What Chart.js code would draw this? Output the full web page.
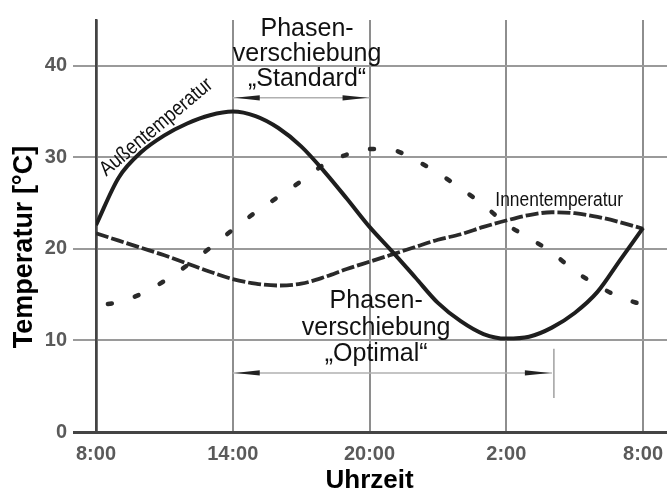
<!DOCTYPE html>
<html>
<head>
<meta charset="utf-8">
<script src="https://cdn.jsdelivr.net/npm/chart.js@4/dist/chart.umd.min.js"></script>
<style>
html,body{margin:0;padding:0;background:#fff;}
#wrap{width:667px;height:491px;}
</style>
</head>
<body>
<div id="wrap"><canvas id="c" width="667" height="491"></canvas></div>
<script>
// ---- data ----
const hours = [8,9,10,11,12,13,14,15,16,17,18,19,20,21,22,23,24,25,26,27,28,29,30,31,32];
const tickHours = [8,14,20,26,32];
const tickLabels = ['8:00','14:00','20:00','2:00','8:00'];
const yTicks = [0,10,20,30,40];
const aussen = [22.6,27.8,30.6,32.4,33.7,34.6,35,34.5,33.2,31.2,28.5,25.5,22.4,19.7,16.9,14.1,12.1,10.7,10.2,10.4,11.4,13.0,15.3,18.8,22.3];
const innen  = [21.7,20.9,20.1,19.3,18.4,17.5,16.7,16.2,16.0,16.2,16.9,17.8,18.6,19.4,20.2,21.0,21.6,22.4,23.1,23.7,24.0,23.9,23.5,22.9,22.2];
const standard = [13.8,14.2,15.1,16.5,18.2,20.1,22.1,24.0,25.7,27.4,29.2,30.3,30.9,30.8,29.7,28.3,26.6,24.8,22.7,21.2,19.6,17.6,16.0,14.7,13.9];

// annotation anchors in data units (hour, °C)
const labelAussen = {text:'Außentemperatur', x:10.81, y:32.8, angle:-40};
const labelInnen = {text:'Innentemperatur', x:28.32, y:24.7};
const textStandard = {lines:['Phasen-','verschiebung','\u201EStandard\u201C'], x:17.26, y:43.3};
const textOptimal = {lines:['Phasen-','verschiebung','\u201EOptimal\u201C'], x:20.29, y:13.55};
const arrowStandard = {from:14, to:20, y:36.5};
const arrowOptimal = {from:14, to:28.0, y:6.45, barFrom:3.7, barTo:9.1};

const pts = arr => hours.map((h,i)=>({x:h,y:arr[i]}));

const annot = {
  id:'annot',
  afterDatasetsDraw(chart){
    const {ctx, scales:{x,y}} = chart;
    ctx.save();
    function arrow(a){
      const x1 = x.getPixelForValue(a.from), x2 = x.getPixelForValue(a.to), yy = y.getPixelForValue(a.y);
      ctx.strokeStyle = '#b0b0b0'; ctx.lineWidth = 1.5;
      ctx.beginPath(); ctx.moveTo(x1,yy); ctx.lineTo(x2,yy); ctx.stroke();
      ctx.fillStyle = '#222';
      const L = 27, h = 2.6;
      ctx.beginPath(); ctx.moveTo(x1+2,yy); ctx.lineTo(x1+L,yy-h); ctx.lineTo(x1+L,yy+h); ctx.closePath(); ctx.fill();
      ctx.beginPath(); ctx.moveTo(x2-2,yy); ctx.lineTo(x2-L,yy-h); ctx.lineTo(x2-L,yy+h); ctx.closePath(); ctx.fill();
      if (a.barFrom !== undefined){
        ctx.strokeStyle = '#a0a0a0'; ctx.lineWidth = 1.5;
        const bx = x2 + 2;
        ctx.beginPath(); ctx.moveTo(bx, y.getPixelForValue(a.barTo)); ctx.lineTo(bx, y.getPixelForValue(a.barFrom)); ctx.stroke();
      }
    }
    arrow(arrowStandard); arrow(arrowOptimal);

    function block(t, spacing){
      ctx.fillStyle = '#111';
      ctx.font = '25px "Liberation Sans", Arial, sans-serif';
      ctx.textAlign = 'center'; ctx.textBaseline = 'alphabetic';
      const cx = x.getPixelForValue(t.x), by = y.getPixelForValue(t.y);
      t.lines.forEach((s,i)=>ctx.fillText(s, cx, by + i*spacing));
    }
    block(textStandard, 25.3);
    block(textOptimal, 26.7);

    ctx.fillStyle = '#111';
    ctx.textAlign = 'center'; ctx.textBaseline = 'alphabetic';
    ctx.save();
    ctx.translate(x.getPixelForValue(labelAussen.x), y.getPixelForValue(labelAussen.y));
    ctx.rotate(labelAussen.angle*Math.PI/180);
    ctx.scale(0.86,1);
    ctx.font = '21px "Liberation Sans", Arial, sans-serif';
    ctx.fillText(labelAussen.text, 0, 0);
    ctx.restore();
    ctx.save();
    ctx.translate(x.getPixelForValue(labelInnen.x), y.getPixelForValue(labelInnen.y));
    ctx.scale(0.87,1);
    ctx.font = '20px "Liberation Sans", Arial, sans-serif';
    ctx.fillText(labelInnen.text, 0, 0);
    ctx.restore();

    ctx.fillStyle = '#000';
    ctx.font = 'bold 27px "Liberation Sans", Arial, sans-serif';
    ctx.save();
    ctx.translate(32, 247);
    ctx.rotate(-Math.PI/2);
    ctx.textAlign = 'center';
    ctx.fillText('Temperatur [°C]', 0, 0);
    ctx.restore();
    ctx.font = 'bold 26px "Liberation Sans", Arial, sans-serif';
    ctx.textAlign = 'center';
    ctx.fillText('Uhrzeit', x.getPixelForValue(20), 488);
    ctx.restore();
  }
};

new Chart(document.getElementById('c'), {
  type:'line',
  data:{
    datasets:[
      {label:'Außentemperatur', data:pts(aussen), borderColor:'#1e1e1e', borderWidth:4, pointRadius:0, cubicInterpolationMode:'monotone', fill:false},
      {label:'Innentemperatur', data:pts(innen), borderColor:'#2a2a2a', borderWidth:3.8, borderDash:[13,3], pointRadius:0, cubicInterpolationMode:'monotone', fill:false},
      {label:'Standard', data:pts(standard), borderColor:'#2a2a2a', borderWidth:4.5, borderDash:[4,24], borderDashOffset:-12, borderCapStyle:'round', pointRadius:0, cubicInterpolationMode:'monotone', fill:false}
    ]
  },
  options:{
    responsive:false,
    devicePixelRatio:1,
    animation:false,
    layout:{padding:{top:20,left:0,right:0,bottom:0}},
    plugins:{legend:{display:false}, tooltip:{enabled:false}},
    scales:{
      x:{
        type:'linear', min:8, max:33.05,
        afterBuildTicks(s){ s.ticks = tickHours.map(v=>({value:v})); },
        afterFit(s){ s.height = 59; s.paddingLeft = 0; s.paddingRight = 0; },
        ticks:{
          callback(v){ const i = tickHours.indexOf(v); return i>=0 ? tickLabels[i] : ''; },
          color:'#5a5a5a', font:{family:'"Liberation Sans", Arial, sans-serif', size:20, weight:'bold'},
          padding:10, maxRotation:0, autoSkip:false
        },
        grid:{drawTicks:false, color:c=>c.tick && c.tick.value===8 ? '#444' : '#8e8e8e', lineWidth:c=>c.tick && c.tick.value===8 ? 2.5 : 2},
        border:{display:true, color:'#444', width:3}
      },
      y:{
        min:0, max:45,
        afterBuildTicks(s){ s.ticks = yTicks.map(v=>({value:v})); },
        afterFit(s){ s.width = 96; s.paddingTop = 0; s.paddingBottom = 0; },
        ticks:{
          color:'#5a5a5a', font:{family:'"Liberation Sans", Arial, sans-serif', size:20, weight:'bold'},
          padding:6
        },
        grid:{tickLength:23, color:c=>c.tick && c.tick.value===0 ? '#444' : '#9a9a9a', lineWidth:c=>c.tick && c.tick.value===0 ? 3 : 2},
        border:{display:true, color:'#444', width:2.5}
      }
    }
  },
  plugins:[annot]
});
</script>
</body>
</html>
